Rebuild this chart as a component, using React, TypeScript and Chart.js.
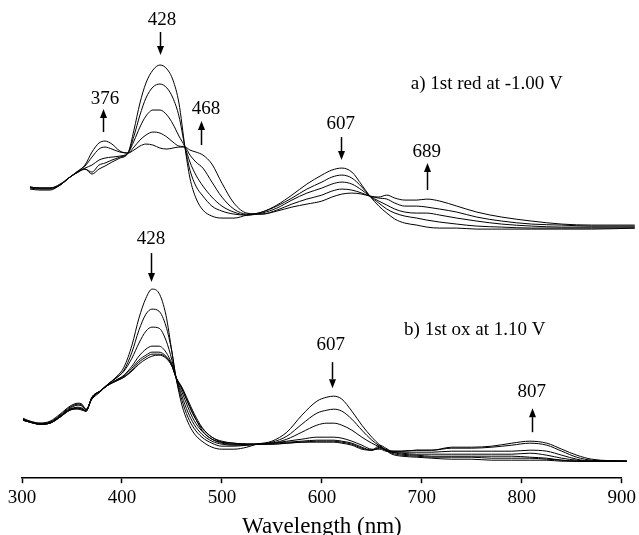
import { useEffect, useRef } from "react";
import { Chart, registerables } from "chart.js";

Chart.register(...registerables);

// ---------- Panel a) 1st reduction at -1.00 V ----------
const RED_WL = [308, 318, 328, 338, 348, 356, 363, 370, 377, 383, 390, 398, 406, 412, 418, 424, 431, 438, 445, 451, 457, 463, 468, 474, 481, 490, 500, 512, 525, 540, 555, 570, 585, 600, 610, 620, 630, 640, 648, 657, 665, 673, 683, 695, 705, 718, 735, 755, 780, 810, 840, 870, 913];
const RED_1 = [2.91, 2.90, 2.90, 2.94, 3.01, 3.06, 3.09, 3.04, 3.09, 3.12, 3.16, 3.20, 3.25, 3.48, 3.75, 3.95, 4.08, 4.13, 4.09, 3.98, 3.75, 3.31, 3.00, 2.80, 2.68, 2.62, 2.60, 2.60, 2.63, 2.66, 2.73, 2.83, 2.94, 3.03, 3.08, 3.10, 3.06, 2.93, 2.82, 2.72, 2.65, 2.59, 2.55, 2.53, 2.51, 2.50, 2.50, 2.49, 2.49, 2.49, 2.49, 2.49, 2.50];
const RED_2 = [2.91, 2.90, 2.90, 2.93, 3.01, 3.06, 3.09, 3.06, 3.13, 3.15, 3.18, 3.21, 3.25, 3.42, 3.63, 3.80, 3.91, 3.94, 3.90, 3.80, 3.62, 3.31, 3.08, 2.92, 2.82, 2.72, 2.67, 2.64, 2.63, 2.66, 2.72, 2.80, 2.89, 2.96, 3.01, 3.03, 3.00, 2.91, 2.82, 2.75, 2.69, 2.65, 2.62, 2.60, 2.58, 2.56, 2.54, 2.52, 2.51, 2.50, 2.50, 2.50, 2.50];
const RED_3 = [2.91, 2.90, 2.90, 2.93, 3.01, 3.06, 3.10, 3.13, 3.18, 3.20, 3.21, 3.22, 3.25, 3.37, 3.51, 3.62, 3.68, 3.68, 3.63, 3.54, 3.42, 3.31, 3.16, 3.03, 2.92, 2.81, 2.72, 2.66, 2.63, 2.65, 2.70, 2.78, 2.85, 2.90, 2.94, 2.96, 2.94, 2.88, 2.82, 2.77, 2.73, 2.69, 2.66, 2.65, 2.65, 2.63, 2.60, 2.57, 2.54, 2.52, 2.51, 2.51, 2.51];
const RED_4 = [2.90, 2.89, 2.89, 2.93, 3.01, 3.07, 3.12, 3.21, 3.29, 3.31, 3.29, 3.26, 3.25, 3.31, 3.38, 3.43, 3.46, 3.45, 3.41, 3.36, 3.32, 3.31, 3.23, 3.16, 3.10, 2.96, 2.81, 2.69, 2.64, 2.64, 2.68, 2.74, 2.79, 2.83, 2.87, 2.89, 2.88, 2.85, 2.82, 2.80, 2.79, 2.75, 2.72, 2.72, 2.71, 2.69, 2.66, 2.61, 2.57, 2.54, 2.53, 2.52, 2.52];
const RED_5 = [2.89, 2.88, 2.88, 2.93, 3.01, 3.07, 3.13, 3.26, 3.35, 3.37, 3.34, 3.27, 3.25, 3.28, 3.32, 3.34, 3.33, 3.30, 3.29, 3.30, 3.31, 3.31, 3.28, 3.26, 3.23, 3.14, 2.95, 2.75, 2.65, 2.64, 2.67, 2.71, 2.74, 2.77, 2.81, 2.84, 2.85, 2.84, 2.82, 2.81, 2.83, 2.80, 2.78, 2.78, 2.79, 2.77, 2.72, 2.66, 2.61, 2.57, 2.54, 2.53, 2.53];

// ---------- Panel b) 1st oxidation at 1.10 V ----------
const OX_WL = [301, 308, 318, 328, 338, 348, 356, 360, 364, 370, 378, 386, 394, 402, 410, 417, 424, 430, 437, 444, 450, 454, 460, 466, 472, 480, 490, 500, 512, 525, 535, 550, 565, 580, 595, 605, 612, 620, 630, 640, 650, 658, 664, 670, 680, 695, 710, 730, 750, 770, 790, 808, 825, 840, 855, 870, 905];
const OX_1 = [0.60, 0.57, 0.55, 0.57, 0.64, 0.72, 0.75, 0.74, 0.69, 0.79, 0.86, 0.94, 1.01, 1.11, 1.33, 1.60, 1.80, 1.89, 1.85, 1.63, 1.26, 1.01, 0.73, 0.56, 0.45, 0.37, 0.31, 0.29, 0.29, 0.31, 0.34, 0.37, 0.46, 0.63, 0.77, 0.81, 0.82, 0.79, 0.67, 0.53, 0.41, 0.33, 0.28, 0.24, 0.22, 0.21, 0.20, 0.19, 0.19, 0.18, 0.18, 0.18, 0.18, 0.17, 0.17, 0.17, 0.17];
const OX_2 = [0.59, 0.57, 0.55, 0.56, 0.63, 0.71, 0.74, 0.73, 0.68, 0.80, 0.87, 0.94, 1.00, 1.08, 1.26, 1.48, 1.64, 1.69, 1.67, 1.52, 1.26, 1.01, 0.78, 0.61, 0.50, 0.41, 0.35, 0.32, 0.32, 0.33, 0.34, 0.36, 0.42, 0.54, 0.65, 0.68, 0.69, 0.67, 0.59, 0.48, 0.38, 0.32, 0.28, 0.25, 0.23, 0.22, 0.21, 0.21, 0.21, 0.20, 0.20, 0.20, 0.19, 0.18, 0.17, 0.17, 0.17];
const OX_3 = [0.59, 0.56, 0.54, 0.56, 0.62, 0.70, 0.73, 0.72, 0.68, 0.80, 0.87, 0.94, 1.00, 1.07, 1.20, 1.35, 1.47, 1.51, 1.50, 1.38, 1.18, 1.01, 0.82, 0.66, 0.54, 0.44, 0.37, 0.34, 0.33, 0.33, 0.34, 0.35, 0.39, 0.46, 0.53, 0.55, 0.55, 0.53, 0.48, 0.41, 0.35, 0.31, 0.28, 0.26, 0.24, 0.23, 0.22, 0.22, 0.22, 0.22, 0.22, 0.21, 0.20, 0.18, 0.17, 0.17, 0.17];
const OX_4 = [0.58, 0.56, 0.54, 0.55, 0.62, 0.69, 0.71, 0.70, 0.67, 0.80, 0.87, 0.93, 0.98, 1.03, 1.12, 1.22, 1.29, 1.32, 1.32, 1.26, 1.14, 1.01, 0.86, 0.71, 0.58, 0.47, 0.39, 0.35, 0.34, 0.34, 0.34, 0.35, 0.37, 0.39, 0.41, 0.41, 0.41, 0.40, 0.37, 0.33, 0.29, 0.29, 0.27, 0.26, 0.25, 0.24, 0.24, 0.24, 0.24, 0.24, 0.24, 0.25, 0.23, 0.20, 0.18, 0.17, 0.17];
const OX_5 = [0.58, 0.56, 0.54, 0.55, 0.61, 0.69, 0.70, 0.69, 0.67, 0.81, 0.87, 0.93, 0.98, 1.02, 1.10, 1.18, 1.23, 1.26, 1.26, 1.22, 1.13, 1.01, 0.89, 0.75, 0.62, 0.50, 0.41, 0.36, 0.34, 0.34, 0.34, 0.35, 0.36, 0.37, 0.38, 0.38, 0.38, 0.37, 0.35, 0.31, 0.28, 0.30, 0.28, 0.27, 0.26, 0.26, 0.26, 0.27, 0.27, 0.27, 0.27, 0.28, 0.27, 0.23, 0.19, 0.17, 0.17];
const OX_6 = [0.58, 0.56, 0.54, 0.55, 0.61, 0.68, 0.70, 0.69, 0.67, 0.81, 0.87, 0.93, 0.97, 1.01, 1.08, 1.16, 1.21, 1.24, 1.24, 1.21, 1.12, 1.01, 0.91, 0.78, 0.65, 0.51, 0.41, 0.37, 0.35, 0.34, 0.34, 0.34, 0.35, 0.36, 0.37, 0.37, 0.37, 0.36, 0.34, 0.30, 0.28, 0.31, 0.29, 0.27, 0.27, 0.28, 0.28, 0.30, 0.30, 0.31, 0.33, 0.35, 0.33, 0.27, 0.21, 0.18, 0.17];
const OX_7 = [0.58, 0.56, 0.54, 0.55, 0.61, 0.68, 0.69, 0.68, 0.67, 0.81, 0.87, 0.93, 0.97, 1.01, 1.07, 1.14, 1.19, 1.22, 1.23, 1.20, 1.12, 1.01, 0.90, 0.76, 0.63, 0.48, 0.39, 0.36, 0.35, 0.34, 0.34, 0.34, 0.35, 0.36, 0.36, 0.36, 0.36, 0.35, 0.33, 0.29, 0.28, 0.33, 0.30, 0.27, 0.27, 0.28, 0.28, 0.31, 0.31, 0.32, 0.35, 0.37, 0.35, 0.29, 0.23, 0.19, 0.17];

// ---------- Axis ----------
const X_MIN = 300;
const X_MAX = 900;
const X_STEP = 100;
const X_TITLE = "Wavelength (nm)";

// ---------- Annotations (data coordinates: nm, absorbance) ----------
const NOTE_TEXT = ["428", "376", "468", "607", "689", "a) 1st red at -1.00 V", "428", "607", "807", "b) 1st ox at 1.10 V"];
const NOTE_X = [440, 383, 484, 619, 705, 765, 429, 609, 810, 753];
const NOTE_Y = [4.58, 3.79, 3.69, 3.54, 3.26, 3.94, 2.39, 1.33, 0.86, 1.48];
const ARROW_X = [438, 381, 479, 619, 705, 429, 610, 810];
const ARROW_TAIL = [4.46, 3.46, 3.33, 3.41, 2.88, 2.25, 1.16, 0.46];
const ARROW_HEAD = [4.23, 3.69, 3.57, 3.18, 3.15, 1.96, 0.90, 0.70];

const FONT = '"Liberation Serif", "DejaVu Serif", serif';

const notesPlugin = {
  id: "spectraNotes",
  afterDatasetsDraw(chart: any) {
    const { ctx } = chart;
    const xs = chart.scales.x;
    const ys = chart.scales.y;
    ctx.save();
    ctx.fillStyle = "#000";
    ctx.strokeStyle = "#000";
    ctx.font = `19px ${FONT}`;
    ctx.textAlign = "center";
    ctx.textBaseline = "middle";
    NOTE_TEXT.forEach((t, i) => {
      ctx.fillText(t, xs.getPixelForValue(NOTE_X[i]), ys.getPixelForValue(NOTE_Y[i]));
    });
    ctx.lineWidth = 1.5;
    ARROW_X.forEach((ax, i) => {
      const px = Math.round(xs.getPixelForValue(ax)) + 0.5;
      const t = ys.getPixelForValue(ARROW_TAIL[i]);
      const h = ys.getPixelForValue(ARROW_HEAD[i]);
      const dir = h > t ? 1 : -1;
      const headLen = 9;
      ctx.beginPath();
      ctx.moveTo(px, t);
      ctx.lineTo(px, h - dir * headLen);
      ctx.stroke();
      ctx.beginPath();
      ctx.moveTo(px, h);
      ctx.lineTo(px - 3.5, h - dir * headLen);
      ctx.lineTo(px + 3.5, h - dir * headLen);
      ctx.closePath();
      ctx.fill();
    });
    ctx.restore();
  },
};

function toPoints(wl: number[], vals: number[]) {
  return wl.map((x, i) => ({ x, y: vals[i] }));
}

export default function App() {
  const ref = useRef<HTMLCanvasElement | null>(null);

  useEffect(() => {
    if (!ref.current) return;
    const series: [number[], number[]][] = [
      [RED_WL, RED_1], [RED_WL, RED_2], [RED_WL, RED_3], [RED_WL, RED_4], [RED_WL, RED_5],
      [OX_WL, OX_1], [OX_WL, OX_2], [OX_WL, OX_3], [OX_WL, OX_4], [OX_WL, OX_5], [OX_WL, OX_6], [OX_WL, OX_7],
    ];
    const chart = new Chart(ref.current, {
      type: "line",
      data: {
        datasets: series.map(([wl, v]) => ({
          data: toPoints(wl, v),
          borderColor: "#000",
          borderWidth: 1,
          pointRadius: 0,
          fill: false,
          cubicInterpolationMode: "monotone" as const,
          clip: false as any,
        })),
      },
      options: {
        animation: false,
        responsive: false,
        devicePixelRatio: 1,
        parsing: false as any,
        layout: { padding: { left: 22, right: 17, top: 8, bottom: 12 } },
        plugins: { legend: { display: false }, tooltip: { enabled: false } },
        scales: {
          x: {
            type: "linear",
            min: X_MIN,
            max: X_MAX,
            ticks: { stepSize: X_STEP, color: "#000", font: { family: FONT, size: 19 }, padding: 3 },
            grid: { drawOnChartArea: false, tickLength: 5, color: "#000", tickWidth: 1.5 },
            border: { color: "#000", width: 1.5 },
            title: { display: true, text: X_TITLE, color: "#000", font: { family: FONT, size: 23, lineHeight: 1 }, padding: { top: 3, bottom: 0 } },
          },
          y: { display: false, min: 0, max: 4.7 },
        },
      },
      plugins: [notesPlugin],
    });
    return () => chart.destroy();
  }, []);

  return (
    <div style={{ position: "fixed", left: 0, top: 0, width: 639, height: 535, overflow: "hidden", background: "#fff" }}>
      <canvas ref={ref} width={639} height={550} style={{ display: "block" }} />
    </div>
  );
}
